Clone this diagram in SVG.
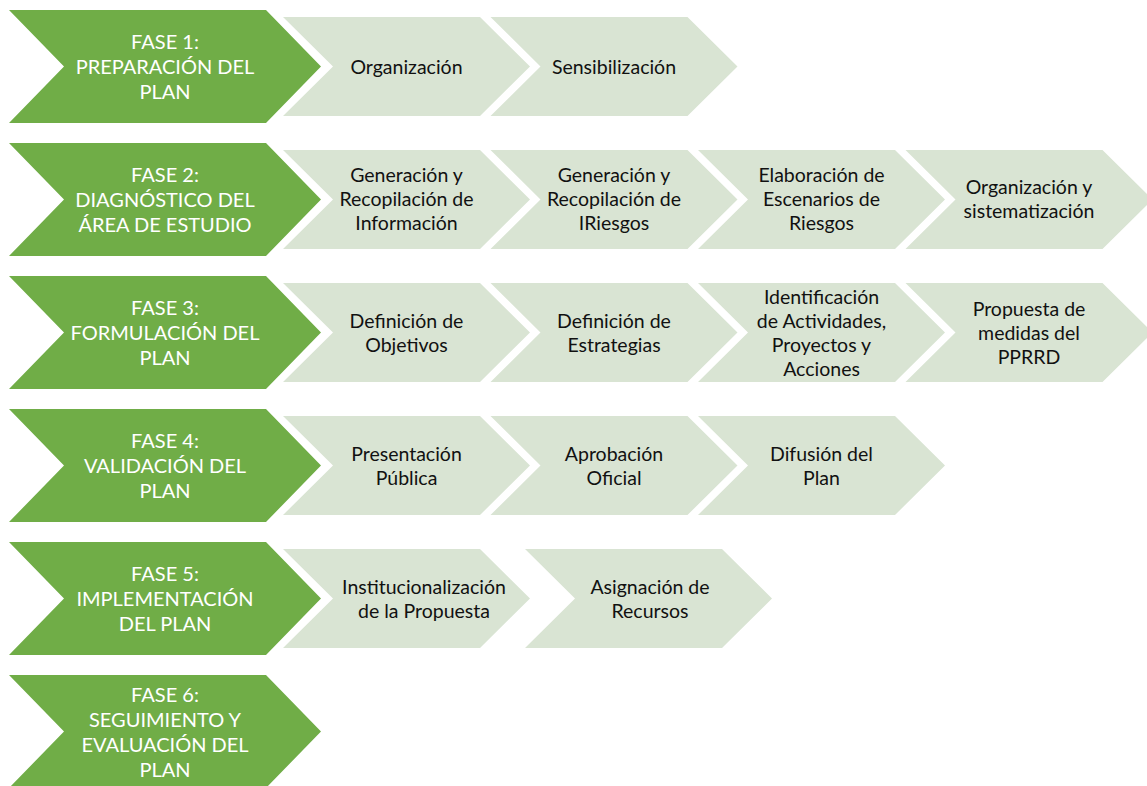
<svg xmlns="http://www.w3.org/2000/svg" width="1147" height="786" viewBox="0 0 1147 786">
<style>
.g{fill:#70AD47}
.l{fill:#D9E4D3}
.gt{font-family:Lato,"Liberation Sans",sans-serif;font-size:20px;fill:#fff;text-anchor:middle}
.lt{font-family:Lato,"Liberation Sans",sans-serif;font-size:19.5px;fill:#111;text-anchor:middle}
</style>
<rect width="1147" height="786" fill="#fff"/>
<defs>
<path id="gch" d="M0,0 H257 L312,56.5 L257,113 H0 L55,56.5 Z"/>
<path id="lch" d="M0,0 H197 L247,49.5 L197,99 H0 L50,49.5 Z"/>
</defs>
<g id="connectors"></g>

<!-- Row 1 -->
<g id="fase1"><use href="#gch" class="g" x="9" y="10"/>
<text class="gt"><tspan x="165" y="49">FASE 1:</tspan><tspan x="165" y="74">PREPARACIÓN DEL</tspan><tspan x="165" y="99">PLAN</tspan></text></g>
<g id="organizacion"><use href="#lch" class="l" x="283" y="17"/>
<text class="lt"><tspan x="406.5" y="74">Organización</tspan></text></g>
<g id="sensibilizacion"><use href="#lch" class="l" x="490.5" y="17"/>
<text class="lt"><tspan x="614" y="74">Sensibilización</tspan></text></g>

<!-- Row 2 -->
<g id="fase2"><use href="#gch" class="g" x="9" y="143"/>
<text class="gt"><tspan x="165" y="182">FASE 2:</tspan><tspan x="165" y="207">DIAGNÓSTICO DEL</tspan><tspan x="165" y="232">ÁREA DE ESTUDIO</tspan></text></g>
<g id="gen-info"><use href="#lch" class="l" x="283" y="150"/>
<text class="lt"><tspan x="406.5" y="182">Generación y</tspan><tspan x="406.5" y="206">Recopilación de</tspan><tspan x="406.5" y="230">Información</tspan></text></g>
<g id="gen-riesgos"><use href="#lch" class="l" x="490.5" y="150"/>
<text class="lt"><tspan x="614" y="182">Generación y</tspan><tspan x="614" y="206">Recopilación de</tspan><tspan x="614" y="230">IRiesgos</tspan></text></g>
<g id="escenarios"><use href="#lch" class="l" x="698" y="150"/>
<text class="lt"><tspan x="821.5" y="182">Elaboración de</tspan><tspan x="821.5" y="206">Escenarios de</tspan><tspan x="821.5" y="230">Riesgos</tspan></text></g>
<g id="sistematizacion"><use href="#lch" class="l" x="905.5" y="150"/>
<text class="lt"><tspan x="1029" y="194">Organización y</tspan><tspan x="1029" y="218">sistematización</tspan></text></g>

<!-- Row 3 -->
<g id="fase3"><use href="#gch" class="g" x="9" y="276"/>
<text class="gt"><tspan x="165" y="315">FASE 3:</tspan><tspan x="165" y="340">FORMULACIÓN DEL</tspan><tspan x="165" y="365">PLAN</tspan></text></g>
<g id="objetivos"><use href="#lch" class="l" x="283" y="283"/>
<text class="lt"><tspan x="406.5" y="328">Definición de</tspan><tspan x="406.5" y="352">Objetivos</tspan></text></g>
<g id="estrategias"><use href="#lch" class="l" x="490.5" y="283"/>
<text class="lt"><tspan x="614" y="328">Definición de</tspan><tspan x="614" y="352">Estrategias</tspan></text></g>
<g id="actividades"><use href="#lch" class="l" x="698" y="283"/>
<text class="lt"><tspan x="821.5" y="304">Identificación</tspan><tspan x="821.5" y="328">de Actividades,</tspan><tspan x="821.5" y="352">Proyectos y</tspan><tspan x="821.5" y="376">Acciones</tspan></text></g>
<g id="medidas"><use href="#lch" class="l" x="905.5" y="283"/>
<text class="lt"><tspan x="1029" y="316">Propuesta de</tspan><tspan x="1029" y="340">medidas del</tspan><tspan x="1029" y="364">PPRRD</tspan></text></g>

<!-- Row 4 -->
<g id="fase4"><use href="#gch" class="g" x="9" y="409"/>
<text class="gt"><tspan x="165" y="448">FASE 4:</tspan><tspan x="165" y="473">VALIDACIÓN DEL</tspan><tspan x="165" y="498">PLAN</tspan></text></g>
<g id="presentacion"><use href="#lch" class="l" x="283" y="416"/>
<text class="lt"><tspan x="406.5" y="461">Presentación</tspan><tspan x="406.5" y="485">Pública</tspan></text></g>
<g id="aprobacion"><use href="#lch" class="l" x="490.5" y="416"/>
<text class="lt"><tspan x="614" y="461">Aprobación</tspan><tspan x="614" y="485">Oficial</tspan></text></g>
<g id="difusion"><use href="#lch" class="l" x="698" y="416"/>
<text class="lt"><tspan x="821.5" y="461">Difusión del</tspan><tspan x="821.5" y="485">Plan</tspan></text></g>

<!-- Row 5 -->
<g id="fase5"><use href="#gch" class="g" x="9" y="542"/>
<text class="gt"><tspan x="165" y="581">FASE 5:</tspan><tspan x="165" y="606">IMPLEMENTACIÓN</tspan><tspan x="165" y="631">DEL PLAN</tspan></text></g>
<g id="institucionalizacion"><use href="#lch" class="l" x="283" y="549"/>
<text class="lt"><tspan x="424" y="594">Institucionalización</tspan><tspan x="424" y="618">de la Propuesta</tspan></text></g>
<g id="recursos"><use href="#lch" class="l" x="525" y="549"/>
<text class="lt"><tspan x="650" y="594">Asignación de</tspan><tspan x="650" y="618">Recursos</tspan></text></g>

<!-- Row 6 -->
<g id="fase6"><use href="#gch" class="g" x="9" y="675"/>
<text class="gt"><tspan x="165" y="702">FASE 6:</tspan><tspan x="165" y="727">SEGUIMIENTO Y</tspan><tspan x="165" y="752">EVALUACIÓN DEL</tspan><tspan x="165" y="777">PLAN</tspan></text></g>
</svg>
